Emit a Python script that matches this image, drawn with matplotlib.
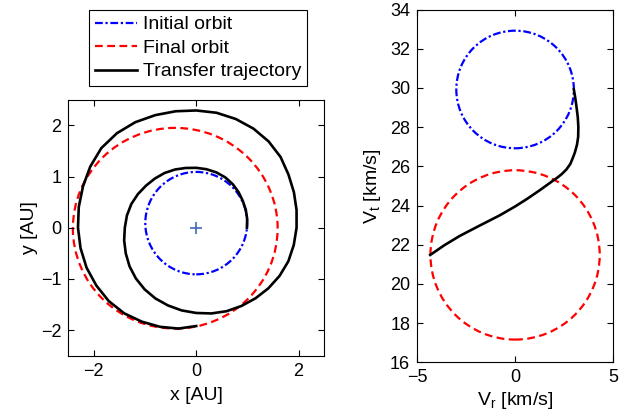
import matplotlib
matplotlib.use('Agg')
import matplotlib.pyplot as plt
import numpy as np
from matplotlib.patches import Ellipse
from matplotlib.lines import Line2D
from matplotlib.projections.polar import PolarTransform

plt.rcParams['font.family'] = 'Liberation Sans'
plt.rcParams['font.size'] = 13
plt.rcParams['mathtext.fontset'] = 'custom'
plt.rcParams['mathtext.rm'] = 'Liberation Sans'
plt.rcParams['mathtext.it'] = 'Liberation Sans:italic'

# orbits in the x-y plane: centre and semi-axes [AU]
init_center = (0.0, 0.09)
init_semi = (0.995, 1.0)
final_center = (-0.41, -0.01)
final_semi = (2.0, 1.96)

# transfer trajectory: polar angle [deg] and radius [AU]
traj_theta = [0, 10, 20, 30, 40, 50, 60, 70, 80, 90,
              100, 110, 120, 130, 140, 150, 160, 170, 180, 190,
              200, 210, 220, 230, 240, 250, 260, 270, 280, 290,
              300, 310, 320, 330, 340, 350, 360, 370, 380, 390,
              400, 410, 420, 430, 440, 450, 460, 470, 480, 490,
              500, 510, 520, 530, 540, 550, 560, 570, 580, 590,
              600, 610, 620, 630]
traj_r = [0.99, 1.01, 1.03, 1.05, 1.08, 1.11, 1.135, 1.15, 1.16, 1.17,
          1.185, 1.21, 1.235, 1.255, 1.28, 1.315, 1.35, 1.375, 1.395, 1.43,
          1.465, 1.505, 1.54, 1.57, 1.595, 1.615, 1.64, 1.665, 1.70, 1.735,
          1.765, 1.80, 1.84, 1.88, 1.915, 1.935, 1.96, 1.99, 2.03, 2.08,
          2.15, 2.20, 2.235, 2.26, 2.28, 2.29, 2.31, 2.34, 2.38, 2.41,
          2.42, 2.39, 2.355, 2.33, 2.31, 2.295, 2.28, 2.255, 2.23, 2.185,
          2.12, 2.06, 2.0, 1.92]

# hodographs: centre and radius [km/s]
hodo_init_center = (0.0, 29.92)
hodo_init_r = 3.0
hodo_final_center = (0.0, 21.48)
hodo_final_r = 4.32

# transfer trajectory in velocity space [km/s]
vr = [3.00, 3.07, 3.14, 3.20, 3.23, 3.22, 3.16, 3.05, 2.96, 2.82,
      2.62, 2.40, 2.18, 1.94, 1.26, 0.60, 0.00, -0.78, -1.80, -2.82,
      -3.60, -4.33]
vt = [29.92, 29.50, 29.00, 28.50, 28.00, 27.50, 27.10, 26.70, 26.46, 26.12,
      25.84, 25.62, 25.44, 25.27, 24.78, 24.33, 23.95, 23.50, 22.98, 22.45,
      21.98, 21.48]

labels = ['Initial orbit', 'Final orbit', 'Transfer trajectory']

lw = 1.6
blue_ls = (0, (3.5, 1.2, 1.0, 1.2))
red_ls = (0, (3.5, 2.0))

fig = plt.figure(figsize=(6.32, 4.19), dpi=100)
ax1 = fig.add_axes([0.108, 0.151, 0.405, 0.611])
ax2 = fig.add_axes([0.660, 0.1353, 0.310, 0.842])

# left: orbits
ax1.add_patch(Ellipse(init_center, 2 * init_semi[0], 2 * init_semi[1], fill=False,
                      edgecolor='b', lw=lw, linestyle=blue_ls))
ax1.add_patch(Ellipse(final_center, 2 * final_semi[0], 2 * final_semi[1], fill=False,
                      edgecolor='r', lw=lw, linestyle=red_ls))
polar = PolarTransform(apply_theta_transforms=False) + ax1.transData
ax1.plot(np.deg2rad(traj_theta), traj_r, 'k-', lw=lw + 0.3, transform=polar)
ax1.plot(0, 0, '+', color='#4466bb', ms=8, mew=1.2)
ax1.set_xlim(-2.5, 2.5)
ax1.set_ylim(-2.5, 2.5)
ax1.set_xticks([-2, 0, 2])
ax1.set_yticks([-2, -1, 0, 1, 2])
ax1.set_xlabel('x [AU]', fontsize=14, labelpad=5)
ax1.set_ylabel('y [AU]', fontsize=14, labelpad=2)

# right: hodographs
ax2.add_patch(Ellipse(hodo_init_center, 2 * hodo_init_r, 2 * hodo_init_r, fill=False,
                      edgecolor='b', lw=lw, linestyle=blue_ls))
ax2.add_patch(Ellipse(hodo_final_center, 2 * hodo_final_r, 2 * hodo_final_r, fill=False,
                      edgecolor='r', lw=lw, linestyle=red_ls))
ax2.plot(vr, vt, 'k-', lw=lw + 0.3)
ax2.set_xlim(-5, 5)
ax2.set_ylim(16, 34)
ax2.set_xticks([-5, 0, 5])
ax2.set_yticks(range(16, 35, 2))
ax2.set_xlabel(r'$\mathregular{V_r}$ [km/s]', fontsize=14, labelpad=3)
ax2.set_ylabel(r'$\mathregular{V_t}$ [km/s]', fontsize=14, labelpad=5)

for ax in (ax1, ax2):
    ax.tick_params(direction='in', top=True, right=True, length=4, width=0.8,
                   labelsize=13, pad=5)
    for s in ax.spines.values():
        s.set_linewidth(0.8)

handles = [Line2D([], [], color='b', lw=lw, linestyle=blue_ls),
           Line2D([], [], color='r', lw=lw, linestyle=red_ls),
           Line2D([], [], color='k', lw=lw + 0.3)]
leg = fig.legend(handles, labels, loc='upper left',
                 bbox_to_anchor=(89.3 / 632, 1 - 10 / 419), borderaxespad=0,
                 fancybox=False, edgecolor='k', framealpha=1,
                 handlelength=2.15, handletextpad=0.3, labelspacing=0.3,
                 borderpad=0.3, fontsize=14)
leg.get_frame().set_linewidth(0.8)

fig.savefig('out.png', dpi=100)
